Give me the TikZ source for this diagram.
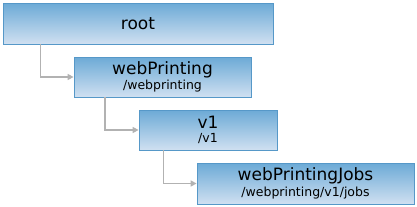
\documentclass[tikz,border=0pt]{standalone}
\usepackage{fontspec}
\setmainfont{DejaVu Sans}
\usepackage{xcolor}
\usepackage{tikz}
\usetikzlibrary{arrows.meta,positioning}

\definecolor{boxtop}{RGB}{108,170,214}
\definecolor{boxbottom}{RGB}{208,224,241}
\definecolor{boxline}{RGB}{86,152,200}
\definecolor{linkgray}{RGB}{178,178,178}

\newcommand{\restitle}[1]{{\fontsize{17}{17}\selectfont #1}}
\newcommand{\respath}[1]{{\fontsize{12.5}{12.5}\selectfont #1}}

\tikzset{
  resbox/.style={draw=boxline, line width=0.8pt, top color=boxtop, bottom color=boxbottom,
    rectangle, align=center, inner sep=0pt},
  link/.style={draw=linkgray, line width=1.5pt, -{Triangle[width=6pt,length=6pt]}}
}

\begin{document}
\begin{tikzpicture}[x=1pt,y=-1pt]
    \useasboundingbox (0,0) rectangle (417,206);
    % resource boxes
    \node[resbox, minimum width=270pt, minimum height=41pt] (root) at (138,23.5) {\restitle{root}};
    \node[resbox, minimum width=177pt, minimum height=40pt] (wp) at (162.5,77)
      {\restitle{webPrinting}\\[1.5pt]\respath{/webprinting}};
    \node[resbox, minimum width=138pt, minimum height=40pt] (v1) at (208,130)
      {\restitle{v1}\\[1.5pt]\respath{/v1}};
    \node[resbox, minimum width=217pt, minimum height=41pt] (jobs) at (305.5,183.5)
      {\restitle{webPrintingJobs}\\[1.5pt]\respath{/webprinting/v1/jobs}};
    % links
    \draw[link] ([xshift=38pt]root.south west) |- (wp.west);
    \draw[link] ([xshift=31.5pt]wp.south west) |- (v1.west);
    \draw[link] ([xshift=25pt]v1.south west) |- (jobs.west);
  \end{tikzpicture}
\end{document}
